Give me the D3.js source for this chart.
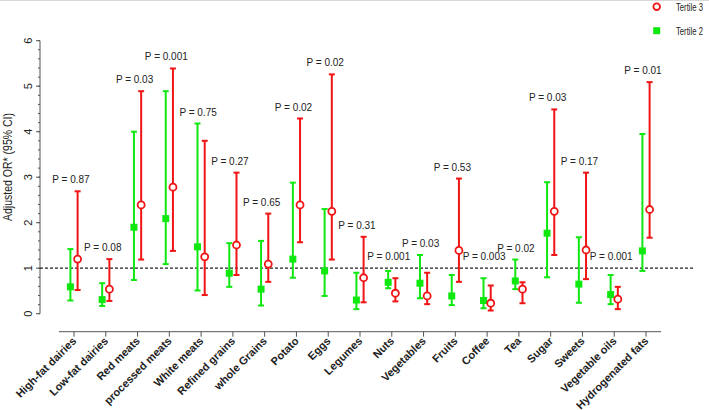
<!DOCTYPE html>
<html><head><meta charset="utf-8">
<script src="https://cdn.jsdelivr.net/npm/d3@7"></script>
<style>body{margin:0;background:#fff}svg{display:block;font-family:"Liberation Sans",Arial,sans-serif}</style>
</head><body><svg id="c" width="709" height="410"></svg>
<script>
const categories = ["High-fat dairies","Low-fat dairies","Red meats","processed meats","White meats","Refined grains","whole Grains","Potato","Eggs","Legumes","Nuts","Vegetables","Fruits","Coffee","Tea","Sugar","Sweets","Vegetable oils","Hydrogenated fats"];
const t2Est   = [0.59,0.31,1.90,2.09,1.47,0.89,0.54,1.20,0.94,0.30,0.69,0.67,0.39,0.29,0.72,1.77,0.65,0.42,1.38];
const t2Lower = [0.29,0.17,0.74,1.09,0.51,0.59,0.18,0.79,0.39,0.10,0.56,0.34,0.19,0.12,0.54,0.80,0.24,0.21,0.94];
const t2Upper = [1.42,0.67,4.00,4.89,4.18,1.55,1.60,2.88,2.30,0.90,0.94,1.29,0.85,0.78,1.19,2.89,1.68,0.85,3.95];
const t3Est   = [1.20,0.54,2.39,2.78,1.25,1.51,1.09,2.39,2.25,0.79,0.45,0.39,1.39,0.23,0.54,2.25,1.40,0.32,2.29];
const t3Lower = [0.52,0.28,1.19,1.38,0.41,0.85,0.70,1.57,1.19,0.25,0.27,0.21,0.70,0.07,0.23,1.29,0.76,0.10,1.67];
const t3Upper = [2.69,1.20,4.89,5.39,3.80,3.10,2.20,4.29,5.26,1.69,0.78,0.90,2.97,0.62,0.69,4.49,3.10,0.59,5.09];
const pLabels = ["P = 0.87","P = 0.08","P = 0.03","P = 0.001","P = 0.75","P = 0.27","P = 0.65","P = 0.02","P = 0.02","P = 0.31","P = 0.001","P = 0.03","P = 0.53","P = 0.003","P = 0.02","P = 0.03","P = 0.17","P = 0.001","P = 0.01"];
const yTicks = [0,1,2,3,4,5,6];
const refLine = 1;
const legendLabels = ["Tertile 3","Tertile 2"];

const GREEN = "#0fe80f", RED = "#f01414";
const svg = d3.select("#c");
svg.append("line").attr("x1",0).attr("x2",709).attr("y1",0.5).attr("y2",0.5).attr("stroke","#d8d8d8");

const x = d3.scalePoint().domain(categories).range([74, 646]);
const y = d3.scaleLinear().domain([0,6]).range([313.7, 40.7]);
const off = 3.6;

// y axis
const yAxisG = svg.append("g").attr("transform","translate(40,0)");
yAxisG.append("line").attr("x1",0).attr("x2",0).attr("y1",y(0)).attr("y2",y(6)).attr("stroke","#555").attr("stroke-width",1);
const minor = d3.range(0, 6.0001, 0.2);
yAxisG.selectAll("line.mn").data(minor).join("line").attr("class","mn")
  .attr("x1",-2).attr("x2",0).attr("y1",d=>y(d)).attr("y2",d=>y(d)).attr("stroke","#555");
yAxisG.selectAll("line.mj").data(yTicks).join("line").attr("class","mj")
  .attr("x1",-4).attr("x2",0).attr("y1",d=>y(d)).attr("y2",d=>y(d)).attr("stroke","#555");
yAxisG.selectAll("text").data(yTicks).join("text")
  .attr("transform",d=>`translate(-8,${y(d)}) rotate(-90)`)
  .attr("text-anchor","middle").attr("font-size",11).attr("fill","#222").text(d=>d);
svg.append("text").attr("transform","translate(11.5,167) rotate(-90)")
  .attr("text-anchor","middle").attr("font-size",12).attr("fill","#222")
  .attr("textLength",108).attr("lengthAdjust","spacingAndGlyphs")
  .text("Adjusted OR* (95% CI)");

// x axis
const xAxisY = 331.7;
svg.append("line").attr("x1",59).attr("x2",661).attr("y1",xAxisY).attr("y2",xAxisY).attr("stroke","#555");
svg.selectAll("line.xt").data(categories).join("line").attr("class","xt")
  .attr("x1",d=>x(d)).attr("x2",d=>x(d)).attr("y1",xAxisY).attr("y2",xAxisY+5).attr("stroke","#555");
svg.selectAll("text.xl").data(categories).join("text").attr("class","xl")
  .attr("transform",d=>`translate(${x(d)+3},${xAxisY+10}) rotate(-45)`)
  .attr("text-anchor","end").attr("font-size",11).attr("font-weight","bold").attr("fill","#222")
  .text(d=>d);

// reference line
svg.append("line").attr("x1",40).attr("x2",695).attr("y1",y(refLine)).attr("y2",y(refLine))
  .attr("stroke","#222").attr("stroke-width",1.2).attr("stroke-dasharray","3,2");

function series(est, lo, hi, dx, color, kind){
  const g = svg.append("g");
  const data = categories.map((c,i)=>({c, e:est[i], l:lo[i], h:hi[i]}));
  g.selectAll("line.v").data(data).join("line")
    .attr("x1",d=>x(d.c)+dx).attr("x2",d=>x(d.c)+dx).attr("y1",d=>y(d.l)).attr("y2",d=>y(d.h))
    .attr("stroke",color).attr("stroke-width",2);
  ["l","h"].forEach(k=>{
    g.selectAll("line.cap"+k).data(data).join("line")
      .attr("x1",d=>x(d.c)+dx-3).attr("x2",d=>x(d.c)+dx+3).attr("y1",d=>y(d[k])).attr("y2",d=>y(d[k]))
      .attr("stroke",color).attr("stroke-width",2);
  });
  if(kind==="square"){
    g.selectAll("rect").data(data).join("rect")
      .attr("x",d=>x(d.c)+dx-3.5).attr("y",d=>y(d.e)-3.5).attr("width",7).attr("height",7).attr("fill",color);
  } else {
    g.selectAll("circle").data(data).join("circle")
      .attr("cx",d=>x(d.c)+dx).attr("cy",d=>y(d.e)).attr("r",3.5).attr("fill","#fff")
      .attr("stroke",color).attr("stroke-width",1.8);
  }
}
series(t2Est,t2Lower,t2Upper,-off,GREEN,"square");
series(t3Est,t3Lower,t3Upper,off,RED,"circle");

// P labels
svg.selectAll("text.p").data(categories).join("text").attr("class","p")
  .attr("x",d=>x(d)-3).attr("y",(d,i)=>y(Math.max(t2Upper[i],t3Upper[i],refLine))-8)
  .attr("text-anchor","middle").attr("font-size",10).attr("fill","#222")
  .text((d,i)=>pLabels[i]);

// legend
const lg = svg.append("g");
lg.append("circle").attr("cx",656.7).attr("cy",6.7).attr("r",3.3).attr("fill","#fff").attr("stroke",RED).attr("stroke-width",1.8);
lg.append("rect").attr("x",653.2).attr("y",27.2).attr("width",7).attr("height",7).attr("fill",GREEN);
lg.selectAll("text").data(legendLabels).join("text")
  .attr("transform",(d,i)=>`translate(676,${10.5+i*24}) scale(0.7,1)`)
  .attr("font-size",11).attr("fill","#222").text(d=>d);
</script></body></html>
